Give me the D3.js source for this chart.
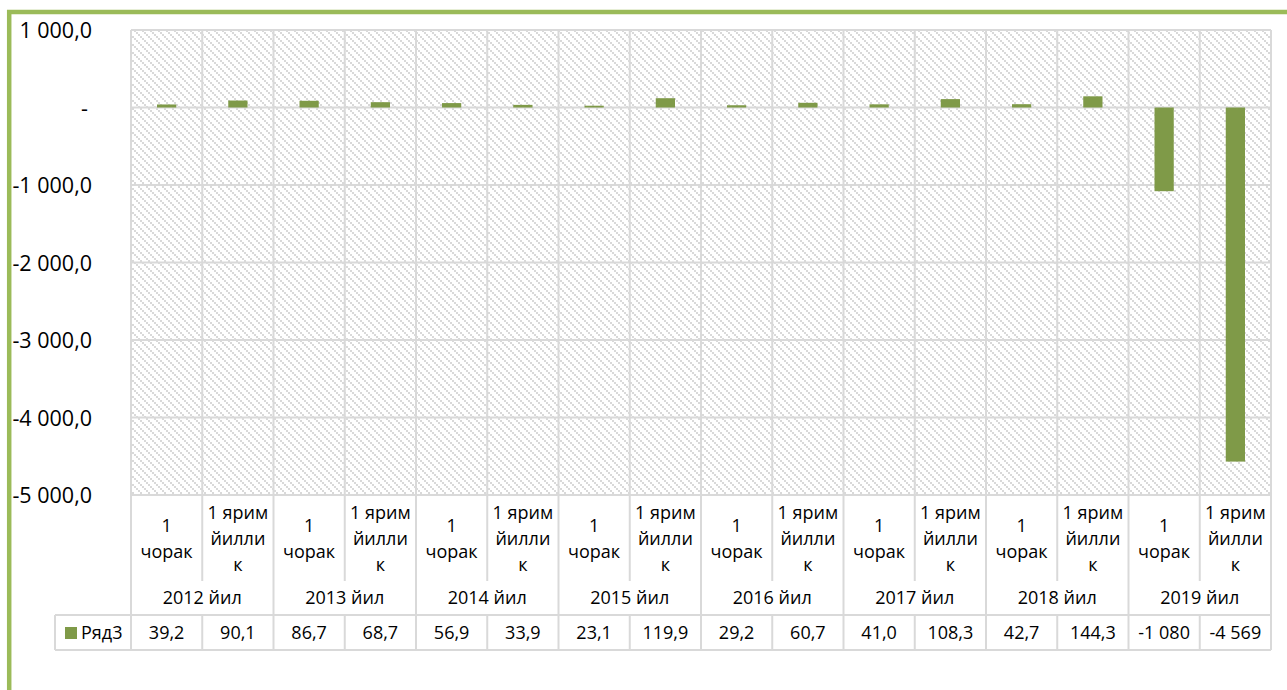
<!DOCTYPE html>
<html><head><meta charset="utf-8">
<script src="https://cdn.jsdelivr.net/npm/d3@7"></script>
<style>body{margin:0;background:#fff;overflow:hidden}svg{display:block}text{font-family:"Open Sans",sans-serif;fill:#000}</style>
</head><body><svg id="c" width="1287" height="690"></svg>
<script>
// ---- data ----
const years = ["2012 йил","2013 йил","2014 йил","2015 йил","2016 йил","2017 йил","2018 йил","2019 йил"];
const periods = ["1 чорак","1 ярим йиллик"];
const periodLines = [["1","чорак"],["1 ярим","йилли","к"]];
const values = [39.2,90.1,86.7,68.7,56.9,33.9,23.1,119.9,29.2,60.7,41.0,108.3,42.7,144.3,-1080,-4569];
const yTicks = [1000,0,-1000,-2000,-3000,-4000,-5000];
const seriesName = "Ряд3";

(function(){
const svg = d3.select("#c");
const locale = d3.formatLocale({decimal:",",thousands:"\u00a0",grouping:[3],currency:["",""],minus:"-"});
const f1 = locale.format(",.1f"), f0 = locale.format(",.0f");
const axisFmt = v => v === 0 ? "-" : f1(v);
const tableFmt = v => Math.abs(v) >= 1000 ? f0(v) : f1(v);

const cats = [];
years.forEach((yr,i)=>periods.forEach((p,j)=>cats.push({key:yr+"|"+p, year:yr, period:p, lines:periodLines[j], value:values[cats.length]})));

const pL = 131, pR = 1271, pT = 30, pB = 495;
const x = d3.scaleBand().domain(cats.map(d=>d.key)).range([pL,pR]).padding(0);
const y = d3.scaleLinear().domain([-5000,1000]).range([pB,pT]);
const bw = x.bandwidth();
const grid = "#d9d9d9";

const defs = svg.append("defs");
const pat = defs.append("pattern").attr("id","hatch").attr("patternUnits","userSpaceOnUse").attr("width",8).attr("height",8);
pat.append("rect").attr("width",8).attr("height",8).attr("fill","#fff");
[0,2,4,6].forEach(o=>pat.append("rect").attr("x",o).attr("y",o).attr("width",2).attr("height",2).attr("fill","#d9d9d9"));

svg.append("rect").attr("x",pL).attr("y",pT).attr("width",pR-pL).attr("height",pB-pT).attr("fill","url(#hatch)");

svg.append("g").selectAll("line").data(yTicks).join("line")
  .attr("x1",pL).attr("x2",pR).attr("y1",d=>y(d)).attr("y2",d=>y(d))
  .attr("stroke",grid).attr("stroke-width",2);

const vg = svg.append("g");
d3.range(cats.length+1).forEach(i=>{
  const xx = i < cats.length ? x(cats[i].key) : pR;
  if (i % 2 === 0) {
    vg.append("line").attr("x1",xx).attr("x2",xx).attr("y1",pT).attr("y2",650).attr("stroke",grid).attr("stroke-width",2);
  } else {
    vg.append("line").attr("x1",xx).attr("x2",xx).attr("y1",pT).attr("y2",581).attr("stroke",grid).attr("stroke-width",2);
    vg.append("line").attr("x1",xx).attr("x2",xx).attr("y1",615).attr("y2",650).attr("stroke",grid).attr("stroke-width",2);
  }
});
[615,650].forEach(yy=>vg.append("line").attr("x1",55).attr("x2",pR).attr("y1",yy).attr("y2",yy).attr("stroke",grid).attr("stroke-width",2));
vg.append("line").attr("x1",55).attr("x2",55).attr("y1",615).attr("y2",650).attr("stroke",grid).attr("stroke-width",2);

const barW = bw*0.27;
svg.append("g").selectAll("rect").data(cats).join("rect")
  .attr("x",d=>x(d.key)+(bw-barW)/2).attr("width",barW)
  .attr("y",d=>y(Math.max(0,d.value))).attr("height",d=>Math.abs(y(d.value)-y(0)))
  .attr("fill","#7f9a48");

const ya = svg.append("g").attr("transform","translate(92,0)")
  .call(d3.axisLeft(y).tickValues(yTicks).tickFormat(axisFmt).tickSize(0).tickPadding(0));
ya.select(".domain").remove();
ya.selectAll("text").attr("font-family","Open Sans").attr("font-size",21.5).attr("fill","#000")
  .attr("dy",null).attr("y",7.5).attr("x",d=>d===0?-4:0);

const cl = svg.append("g");
cats.forEach(d=>{
  const n = d.lines.length;
  d.lines.forEach((ln,k)=>{
    cl.append("text").attr("x",x(d.key)+bw/2).attr("y",545+(k-(n-1)/2)*26)
      .attr("text-anchor","middle").attr("font-size",18).text(ln);
  });
});
svg.append("g").selectAll("text").data(years).join("text")
  .attr("x",(d,i)=>x(cats[i*2].key)+bw).attr("y",604).attr("text-anchor","middle").attr("font-size",18).text(d=>d);
svg.append("g").selectAll("text").data(cats).join("text")
  .attr("x",d=>x(d.key)+bw/2).attr("y",639).attr("text-anchor","middle").attr("font-size",18).text(d=>tableFmt(d.value));
svg.append("rect").attr("x",65).attr("y",627).attr("width",12).attr("height",12).attr("fill","#7f9a48");
svg.append("text").attr("x",81).attr("y",639).attr("font-size",18).text(seriesName);

svg.append("path").attr("d","M9.2,690V12H1287").attr("fill","none").attr("stroke","#9bbb59").attr("stroke-width",4.5);
})();
</script></body></html>
